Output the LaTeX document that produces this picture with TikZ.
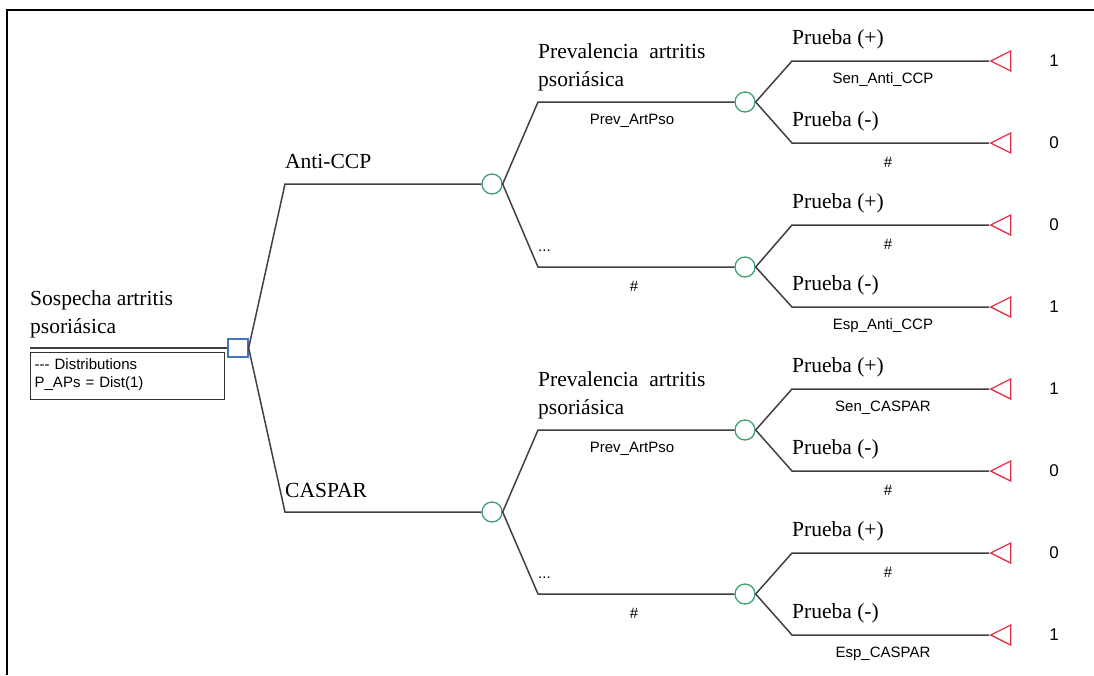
\documentclass[tikz,border=0pt]{standalone}
\usepackage{fontspec}
\setmainfont{Liberation Serif}
\setsansfont{Liberation Sans}
\usepackage{xcolor}
\usetikzlibrary{shapes.geometric, positioning}

\definecolor{chancegreen}{RGB}{64,160,112}
\definecolor{decblue}{RGB}{68,114,196}
\definecolor{termred}{RGB}{220,50,70}
\definecolor{edgegray}{RGB}{64,64,64}

\begin{document}
\begin{tikzpicture}[
    x=1pt, y=-1pt,
    decision/.style={draw=decblue, line width=1.3pt, minimum width=20pt, minimum height=18pt, inner sep=0pt, fill=white},
    chance/.style={draw=chancegreen, circle, line width=1.3pt, minimum size=20pt, inner sep=0pt, fill=white},
    terminal/.style={draw=termred, isosceles triangle, shape border rotate=180, isosceles triangle stretches, minimum width=20pt, minimum height=20pt, inner sep=0pt, line width=1.3pt, anchor=apex},
    branch/.style={draw=edgegray, line width=1.5pt},
    bname/.style={font=\fontsize{21.5}{27.5}\selectfont, inner sep=0pt, anchor=base west, align=left},
    bprob/.style={font=\sffamily\fontsize{15}{18}\selectfont, inner sep=0pt},
    payoff/.style={font=\sffamily\fontsize{17}{20}\selectfont, inner sep=0pt}
]
\useasboundingbox (0,0) rectangle (1094,675);

% Frame
\draw[line width=2.5pt] (7,675) -- (7,10) -- (1094,10);

% Tree nodes
\node[decision] (root) at (238,348) {};
\node[chance] (anti) at (492,184) {};
\node[chance] (caspar) at (492,512) {};
\node[chance] (antiP) at (745,102) {};
\node[chance] (antiN) at (745,267) {};
\node[chance] (caspP) at (745,430) {};
\node[chance] (caspN) at (745,594) {};

\node[terminal] (t1) at (989,61) {};
\node[terminal] (t2) at (989,143) {};
\node[terminal] (t3) at (989,225) {};
\node[terminal] (t4) at (989,307) {};
\node[terminal] (t5) at (989,389) {};
\node[terminal] (t6) at (989,471) {};
\node[terminal] (t7) at (989,553) {};
\node[terminal] (t8) at (989,635) {};

% Branch corners
\coordinate (rootL) at (30,348);
\coordinate (kA) at (285,184);
\coordinate (kC) at (285,512);
\coordinate (kAP) at (538,102);
\coordinate (kAN) at (538,267);
\coordinate (kCP) at (538,430);
\coordinate (kCN) at (538,594);
\foreach \i/\y in {1/61, 2/143, 3/225, 4/307, 5/389, 6/471, 7/553, 8/635}
    \coordinate (k\i) at (792,\y);

% Branches
\draw[branch] (root.west) -- (rootL);
\draw[branch] (root.east) -- (kA) -- (anti);
\draw[branch] (root.east) -- (kC) -- (caspar);
\draw[branch] (anti.east) -- (kAP) -- (antiP);
\draw[branch] (anti.east) -- (kAN) -- (antiN);
\draw[branch] (caspar.east) -- (kCP) -- (caspP);
\draw[branch] (caspar.east) -- (kCN) -- (caspN);
\draw[branch] (antiP.east) -- (k1) -- (t1.apex);
\draw[branch] (antiP.east) -- (k2) -- (t2.apex);
\draw[branch] (antiN.east) -- (k3) -- (t3.apex);
\draw[branch] (antiN.east) -- (k4) -- (t4.apex);
\draw[branch] (caspP.east) -- (k5) -- (t5.apex);
\draw[branch] (caspP.east) -- (k6) -- (t6.apex);
\draw[branch] (caspN.east) -- (k7) -- (t7.apex);
\draw[branch] (caspN.east) -- (k8) -- (t8.apex);

% Root label and distributions box
\node[bname] (rootname) at (30,333) {Sospecha artritis\\psoriásica};
\node[draw=black!80, line width=1.3pt, anchor=north west, minimum width=194pt, minimum height=47pt,
      text width=186pt, align=left, inner sep=4pt, font=\sffamily\fontsize{15}{18}\selectfont] (dist) at (30,352)
    {-{}-{}- Distributions\\P\_APs = Dist(1)\vphantom{\strut}\\[-6pt]};

% Branch names
\node[bname] (nAnti) at ([yshift=16pt]kA) {Anti-CCP};
\node[bname] (nCaspar) at ([yshift=15pt]kC) {CASPAR};
\node[bname] (nPrevA) at ([yshift=16pt]kAP) {Prevalencia~ artritis\\psoriásica};
\node[bname] (nPrevC) at ([yshift=16pt]kCP) {Prevalencia~ artritis\\psoriásica};
\node[bprob, anchor=base west] (nRestA) at ([yshift=16pt]kAN) {...};
\node[bprob, anchor=base west] (nRestC) at ([yshift=16pt]kCN) {...};
\foreach \i/\s in {1/+, 2/-, 3/+, 4/-, 5/+, 6/-, 7/+, 8/-}
    \node[bname] (n\i) at ([yshift=17pt]k\i) {Prueba (\s)};

% Branch probabilities
\node[bprob] (pPrevA) at (632,121) {Prev\_ArtPso};
\node[bprob] (pRestA) at (634,286) {\#};
\node[bprob] (pPrevC) at (632,449) {Prev\_ArtPso};
\node[bprob] (pRestC) at (634,613) {\#};
\node[bprob] (p1) at (883,80) {Sen\_Anti\_CCP};
\node[bprob] (p2) at (888,162) {\#};
\node[bprob] (p3) at (888,244) {\#};
\node[bprob] (p4) at (883,326) {Esp\_Anti\_CCP};
\node[bprob] (p5) at (883,408) {Sen\_CASPAR};
\node[bprob] (p6) at (888,490) {\#};
\node[bprob] (p7) at (888,572) {\#};
\node[bprob] (p8) at (883,654) {Esp\_CASPAR};

% Payoffs
\foreach \i/\v in {1/1, 2/0, 3/0, 4/1, 5/1, 6/0, 7/0, 8/1}
    \node[payoff] (v\i) at ([xshift=65pt]t\i.apex) {\v};

\end{tikzpicture}
\end{document}
